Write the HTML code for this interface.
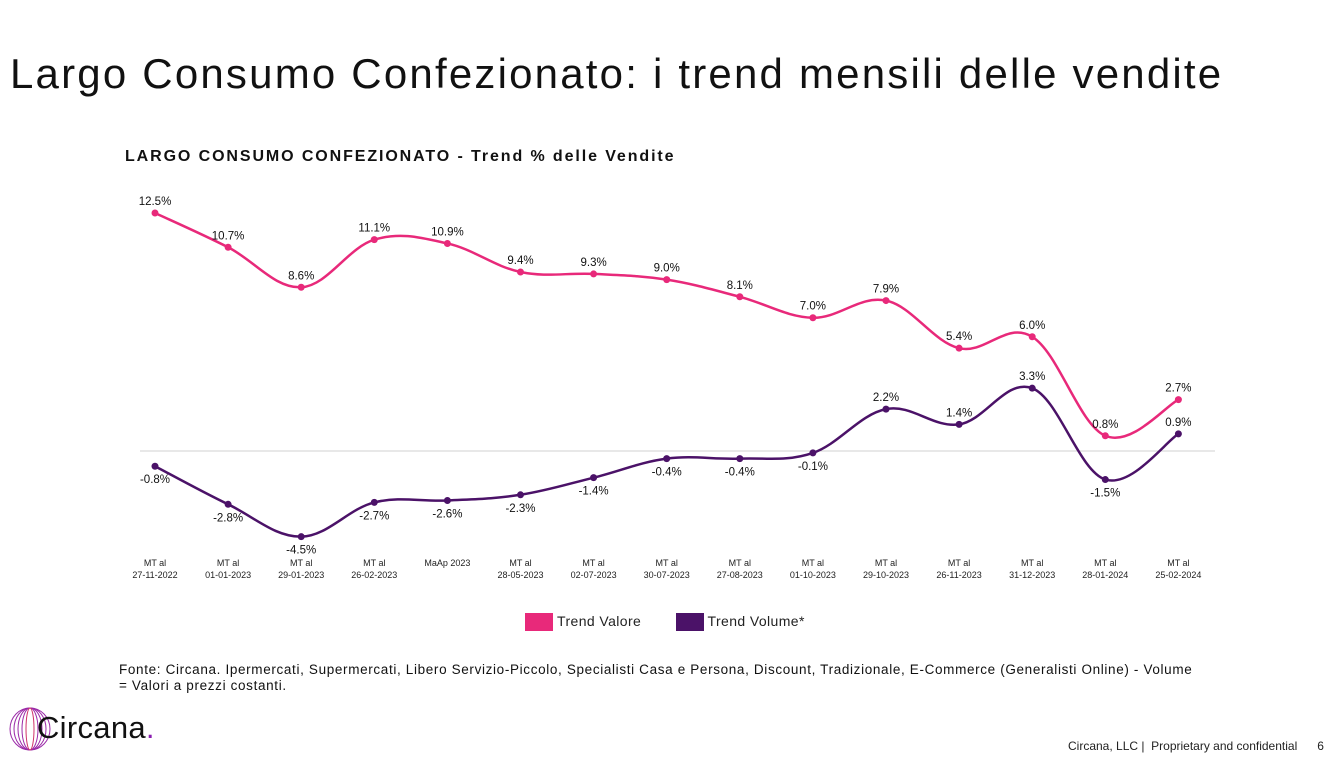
<!DOCTYPE html>
<html><head><meta charset="utf-8"><style>
body{margin:0;width:1330px;height:784px;background:#fff;font-family:"Liberation Sans",sans-serif;overflow:hidden;position:relative}
.t{position:absolute}
</style></head><body>
<div class="t" style="left:10px;top:50px;font-size:42px;color:#111;letter-spacing:2.2px;white-space:nowrap">Largo Consumo Confezionato: i trend mensili delle vendite</div>
<div class="t" style="left:125px;top:148px;font-size:16px;font-weight:bold;color:#111;letter-spacing:1.9px;white-space:nowrap">LARGO CONSUMO CONFEZIONATO - Trend % delle Vendite</div>
<svg class="t" style="left:0;top:0" width="1330" height="784">
<line x1="140" x2="1215" y1="451" y2="451" stroke="#d0d0d0" stroke-width="1"/>
<g id="g"></g>
</svg>
<div class="t" style="left:525px;top:613px;font-size:14px;color:#222;letter-spacing:0.4px">
<span><span style="display:inline-block;width:28px;height:18px;background:#e8297a;vertical-align:middle"></span> Trend Valore</span>
<span style="margin-left:30px"><span style="display:inline-block;width:28px;height:18px;background:#4b1268;vertical-align:middle"></span> Trend Volume*</span>
</div>
<div class="t" style="left:119px;top:662px;font-size:13.5px;color:#111;line-height:16px;letter-spacing:0.65px;white-space:nowrap">Fonte: Circana. Ipermercati, Supermercati, Libero Servizio-Piccolo, Specialisti Casa e Persona, Discount, Tradizionale, E-Commerce (Generalisti Online) - Volume<br>= Valori a prezzi costanti.</div>
<div class="t" style="left:5px;top:706px;height:46px;width:170px">
<svg width="50" height="46" style="position:absolute;left:0;top:0"><g fill="none" stroke="#9b2aa8" stroke-width="1">
<ellipse cx="25" cy="23" rx="20" ry="21"/><ellipse cx="25" cy="23" rx="16" ry="21"/><ellipse cx="25" cy="23" rx="12" ry="21"/><ellipse cx="25" cy="23" rx="8" ry="21"/><ellipse cx="25" cy="23" rx="4" ry="21" stroke="#d0336a"/></g></svg>
<span style="position:absolute;left:32px;top:4px;font-size:31px;color:#111;letter-spacing:0.3px">Circana<span style="color:#8a1cb0">.</span></span>
</div>
<div class="t" style="left:1068px;top:739px;font-size:12px;color:#222">Circana, LLC | &nbsp;Proprietary and confidential &nbsp; &nbsp; &nbsp;6</div>
<script>
const categories=[["MT al","27-11-2022"],["MT al","01-01-2023"],["MT al","29-01-2023"],["MT al","26-02-2023"],["MaAp 2023",""],["MT al","28-05-2023"],["MT al","02-07-2023"],["MT al","30-07-2023"],["MT al","27-08-2023"],["MT al","01-10-2023"],["MT al","29-10-2023"],["MT al","26-11-2023"],["MT al","31-12-2023"],["MT al","28-01-2024"],["MT al","25-02-2024"]];
const valore=[12.5,10.7,8.6,11.1,10.9,9.4,9.3,9.0,8.1,7.0,7.9,5.4,6.0,0.8,2.7];
const volume=[-0.8,-2.8,-4.5,-2.7,-2.6,-2.3,-1.4,-0.4,-0.4,-0.1,2.2,1.4,3.3,-1.5,0.9];
const X=i=>155+i*73.1, Y=v=>451-v*19.04;
const g=document.getElementById('g'),NS='http://www.w3.org/2000/svg';
function mk(t,a){const e=document.createElementNS(NS,t);for(const k in a)e.setAttribute(k,a[k]);g.appendChild(e);return e;}
function path(vals){const p=vals.map((v,i)=>[X(i),Y(v)]);let d='M'+p[0];for(let i=0;i<p.length-1;i++){const a=p[i-1]||p[i],b=p[i],c=p[i+1],e=p[i+2]||c;const k=0.18;
d+=` C${b[0]+(c[0]-a[0])*k},${b[1]+(c[1]-a[1])*k} ${c[0]-(e[0]-b[0])*k},${c[1]-(e[1]-b[1])*k} ${c[0]},${c[1]}`;}return d;}
categories.forEach((c,i)=>{
const t=mk('text',{x:X(i),y:566,'text-anchor':'middle','font-size':'9','fill':'#222'});


t.textContent=c[0];
if(c[1]){const t2=mk('text',{x:X(i),y:578,'text-anchor':'middle','font-size':'9','fill':'#222'});


t2.textContent=c[1];}
});
[[valore,'#e8297a','valore'],[volume,'#4b1268','volume']].forEach(([vals,col,nm])=>{
const l=mk('path',{d:path(vals),fill:'none',stroke:col,'stroke-width':'2.5'});


vals.forEach((v,i)=>{
const c=mk('circle',{cx:X(i),cy:Y(v),r:3.5,fill:col});


const above=nm==='valore'||v>0;
const t=mk('text',{x:X(i),y:above?Y(v)-8:Y(v)+17,'text-anchor':'middle','font-size':'11.5','fill':'#111'});


t.textContent=v.toFixed(1)+'%';
});
});
</script>
</body></html>
